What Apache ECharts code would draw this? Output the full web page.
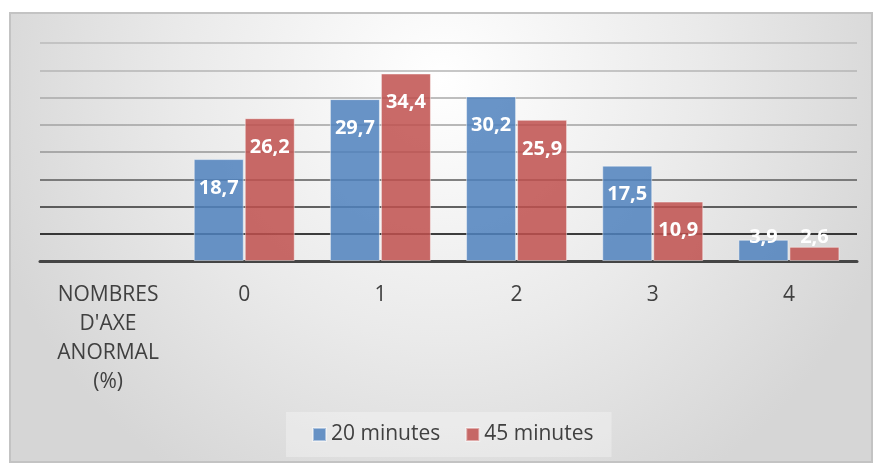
<!DOCTYPE html>
<html>
<head>
<meta charset="utf-8">
<script src="https://cdn.jsdelivr.net/npm/echarts@6/dist/echarts.min.js"></script>
<style>
  html, body { margin: 0; padding: 0; background: #ffffff; }
  #chart { width: 873px; height: 463px; }
</style>
</head>
<body>
<div id="chart"></div>
<script>
// Abnormal axis counts, share of patients (%) after 20 and 45 minutes
const categories = ["NOMBRES\nD'AXE\nANORMAL\n(%)", "0", "1", "2", "3", "4"];
const seriesNames = ["20 minutes", "45 minutes"];
const values20 = [null, 18.7, 29.7, 30.2, 17.5, 3.9];
const values45 = [null, 26.2, 34.4, 25.9, 10.9, 2.6];

const FONT = "'Open Sans', 'Noto Sans', sans-serif";
const fmt = v => v.toFixed(1).replace('.', ',');

// short bars get their label placed above the base instead of hanging from the top
function toItems(arr) {
  return arr.map(v => {
    if (v === null) return null;
    if (v < 8) {
      return { value: v, label: { position: 'insideBottom', distance: 14 } };
    }
    return v;
  });
}

const barLabel = {
  show: true,
  position: 'insideTop',
  distance: 19,
  color: '#ffffff',
  fontFamily: FONT,
  fontWeight: 'bold',
  fontSize: 20,
  formatter: p => fmt(p.value)
};

const chart = echarts.init(document.getElementById('chart'), null, { renderer: 'canvas' });

chart.setOption({
  animation: false,
  graphic: [{
    type: 'rect',
    z: -10,
    silent: true,
    shape: { x: 10, y: 13, width: 862, height: 449 },
    style: {
      fill: new echarts.graphic.RadialGradient(0.5, 0.15, 1.05, [
        { offset: 0, color: '#ffffff' },
        { offset: 0.55, color: '#eaeaea' },
        { offset: 1, color: '#d6d6d6' }
      ]),
      stroke: '#c3c3c3',
      lineWidth: 2
    }
  }],
  grid: { left: 40, right: 16, top: 43, bottom: 202, containLabel: false },
  legend: {
    data: seriesNames,
    left: 286,
    top: 412,
    padding: [12, 18, 12, 26],
    backgroundColor: 'rgba(255,255,255,0.3)',
    itemWidth: 13,
    itemHeight: 13,
    itemGap: 25,
    icon: 'rect',
    textStyle: { color: '#404040', fontFamily: FONT, fontSize: 21 }
  },
  xAxis: {
    type: 'category',
    data: categories,
    axisLine: { lineStyle: { color: '#454545', width: 3 } },
    axisTick: { show: false },
    axisLabel: {
      color: '#404040',
      fontFamily: FONT,
      fontSize: 21,
      lineHeight: 29,
      margin: 20,
      interval: 0,
      align: 'center'
    }
  },
  yAxis: {
    type: 'value',
    min: 0,
    max: 40,
    interval: 5,
    axisLabel: { show: false },
    axisLine: { show: false },
    axisTick: { show: false },
    splitLine: {
      lineStyle: {
        width: 1.6,
        color: ['#454545', '#000000', '#303030', '#5a5a5a', '#969696', '#a2a2a2', '#a9a9a9', '#b4b4b4', '#bababa']
      }
    }
  },
  series: [
    {
      name: seriesNames[0],
      type: 'bar',
      data: toItems(values20),
      barWidth: 50,
      barGap: '2%',
      itemStyle: { color: 'rgba(79,129,189,0.85)', borderColor: 'rgba(255,255,255,0.45)', borderWidth: 1 },
      label: barLabel
    },
    {
      name: seriesNames[1],
      type: 'bar',
      data: toItems(values45),
      barWidth: 50,
      itemStyle: { color: 'rgba(192,80,77,0.85)', borderColor: 'rgba(255,255,255,0.45)', borderWidth: 1 },
      label: barLabel
    }
  ]
});
</script>
</body>
</html>
